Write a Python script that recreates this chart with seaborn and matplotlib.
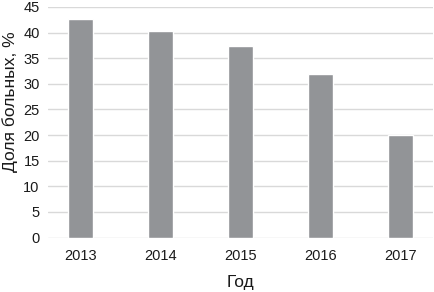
import matplotlib
matplotlib.use("Agg")
import matplotlib.pyplot as plt
import seaborn as sns
import pandas as pd

years = ["2013", "2014", "2015", "2016", "2017"]
shares = [42.6, 40.3, 37.3, 32.0, 20.1]
yticks = [0, 5, 10, 15, 20, 25, 30, 35, 40, 45]

sns.set_style("white")
plt.rcParams["font.family"] = ["Liberation Sans", "DejaVu Sans"]

df = pd.DataFrame({"year": years, "share": shares})

fig = plt.figure(figsize=(4.34, 2.92), dpi=100)
ax = fig.add_axes([48/434, 1 - 237.5/292, (433-48)/434, (237.5-7)/292])
sns.barplot(data=df, x="year", y="share", color="#929497", width=0.31,
            saturation=1, ax=ax, zorder=3)
ax.set_ylim(0, 45)
ax.set_yticks(yticks)
ax.set_xlim(-0.406, 4.406)
ax.grid(axis="y", color="#d9d9d9", linewidth=1, zorder=0)
for s in ax.spines.values():
    s.set_visible(False)
ax.tick_params(axis="both", length=0, labelsize=10.5, colors="#1a1a1a", pad=6)
ax.tick_params(axis="x", pad=8)
ax.set_xlabel("Год", fontsize=12.5, color="#1a1a1a", labelpad=9)
ax.set_ylabel("Доля больных, %", fontsize=12.5, color="#1a1a1a",
              va="center")
ax.yaxis.set_label_coords(-0.099, 0.588)
fig.savefig("out.png", dpi=100)
